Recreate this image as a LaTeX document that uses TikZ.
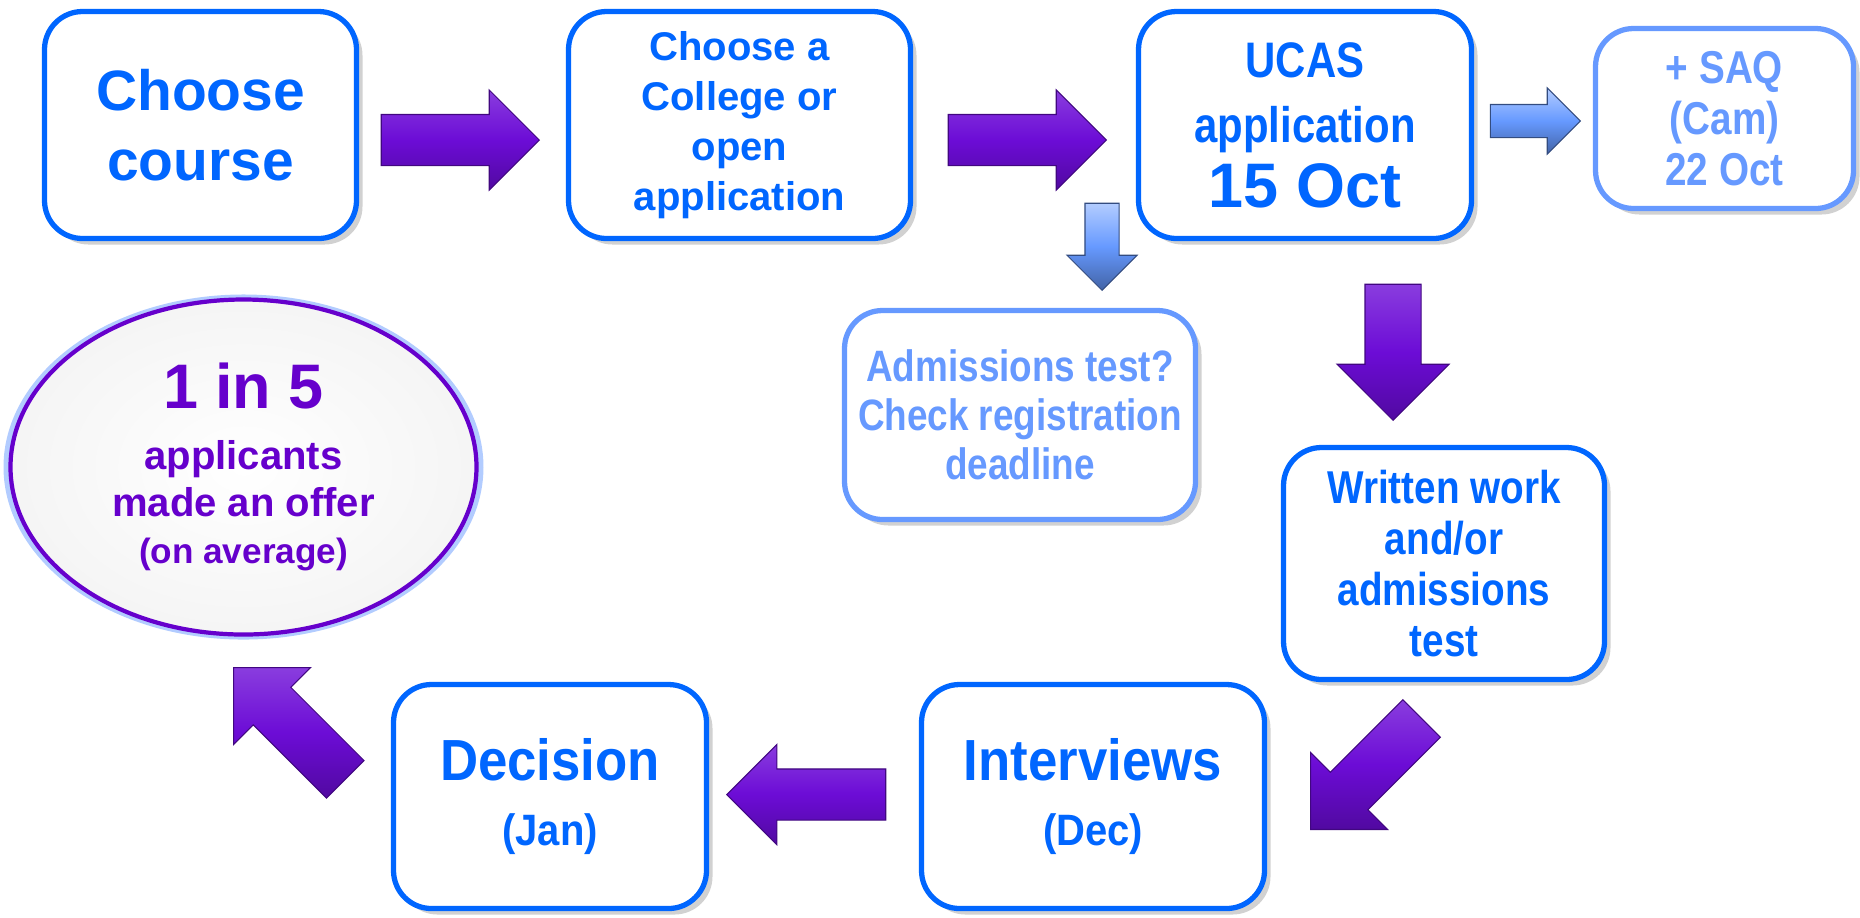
\documentclass[tikz,border=0pt]{standalone}
\usepackage{fontspec}
\setmainfont{Liberation Sans}
\newfontfamily\condfont[FakeStretch=0.84]{Liberation Sans}
\newfontfamily\semicondfont[FakeStretch=0.91]{Liberation Sans}
\usetikzlibrary{positioning,calc,shapes.arrows,shapes.geometric,shadows}

\definecolor{boxblue}{RGB}{0,102,255}
\definecolor{paleblue}{RGB}{102,153,255}
\definecolor{offerpurple}{RGB}{102,0,204}
\definecolor{arrowpurple}{RGB}{108,12,214}

\tikzset{
  stepbox/.style={draw=boxblue, line width=1.5pt, rounded corners=0.38cm, fill=white,
    text=boxblue, align=center, inner sep=0pt,
    drop shadow={shadow xshift=0.06cm, shadow yshift=-0.06cm, opacity=0.3, fill=black!60}},
  sidebox/.style={stepbox, draw=paleblue, text=paleblue},
  % minimum height = length, minimum width = head, inner ysep = half the shaft
  fatarrow/.style={single arrow, single arrow tip angle=90, single arrow head extend=0.245cm,
    inner xsep=0pt, inner ysep=0.25cm, minimum height=1.58cm, minimum width=0.99cm,
    anchor=tip, draw=arrowpurple!60!black, line width=0.3pt,
    top color=arrowpurple!80!white, bottom color=arrowpurple!75!black, middle color=arrowpurple},
  thinarrow/.style={fatarrow, draw=paleblue!50!black,
    top color=paleblue!50!white, bottom color=paleblue!65!black, middle color=paleblue},
}

\begin{document}
\begin{tikzpicture}
\useasboundingbox (0,0) rectangle (18.6,-9.17);

% top row
\node[stepbox, minimum width=3.12cm, minimum height=2.27cm,
  font=\bfseries\fontsize{16.2}{19.9}\selectfont] (course) at (2.005,-1.25) {Choose\\course};
\node[stepbox, minimum width=3.42cm, minimum height=2.27cm,
  font=\bfseries\fontsize{11.4}{14.2}\selectfont] (college) at (7.395,-1.25) {Choose a\\College or\\open\\application};
\node[stepbox, minimum width=3.33cm, minimum height=2.27cm,
  font=\bfseries\fontsize{14.2}{18.5}\selectfont] (ucas) at (13.05,-1.25)
  {{\condfont UCAS}\\{\condfont application}\\{\fontsize{17.9}{18.5}\selectfont 15 Oct}};
\node[sidebox, minimum width=2.58cm, minimum height=1.80cm,
  font=\condfont\bfseries\fontsize{13.1}{14.5}\selectfont] (saq) at (17.245,-1.185) {+ SAQ\\(Cam)\\22 Oct};

% middle
\node[sidebox, minimum width=3.51cm, minimum height=2.09cm,
  font=\condfont\bfseries\fontsize{12.5}{13.9}\selectfont] (admtest) at (10.20,-4.15)
  {Admissions test?\\Check registration\\deadline};
\node[stepbox, minimum width=3.21cm, minimum height=2.32cm,
  font=\condfont\bfseries\fontsize{13.1}{14.5}\selectfont] (written) at (14.44,-5.635)
  {Written work\\and/or\\admissions\\test};

% bottom row
\node[stepbox, minimum width=3.43cm, minimum height=2.24cm,
  font=\semicondfont\bfseries\fontsize{16.5}{17}\selectfont] (interviews) at (10.93,-7.965)
  {Interviews\\[0.05cm]{\fontsize{12.5}{17}\selectfont (Dec)}};
\node[stepbox, minimum width=3.13cm, minimum height=2.24cm,
  font=\semicondfont\bfseries\fontsize{16.5}{17}\selectfont] (decision) at (5.50,-7.965)
  {Decision\\[0.05cm]{\fontsize{12.5}{17}\selectfont (Jan)}};

% the offer
\node[ellipse, draw=offerpurple, line width=1.2pt, minimum width=4.66cm, minimum height=3.35cm,
  inner sep=0pt, inner color=white, outer color=black!4, text=offerpurple, align=center,
  drop shadow={shadow xshift=0pt, shadow yshift=0pt, shadow scale=1.03, fill=paleblue, opacity=0.5},
  font=\bfseries\fontsize{11.4}{13.4}\selectfont] (offer) at (2.435,-4.67)
  {{\fontsize{17.9}{20}\selectfont 1 in 5}\\[0.14cm]applicants\\made an offer\\{\fontsize{10}{13}\selectfont (on average)}};

% arrows, placed by their tips
\node[fatarrow] (a1) at (5.40,-1.40) {};
\node[fatarrow] (a2) at (11.07,-1.40) {};
\node[thinarrow, minimum height=0.90cm, minimum width=0.65cm, inner ysep=0.16cm,
  single arrow head extend=0.165cm] (a3) at (15.81,-1.21) {};
\node[thinarrow, minimum height=0.87cm, minimum width=0.69cm, inner ysep=0.165cm,
  single arrow head extend=0.18cm, rotate=-90] (a4) at (11.02,-2.91) {};
\node[fatarrow, minimum height=1.36cm, minimum width=1.11cm, inner ysep=0.275cm,
  single arrow head extend=0.28cm, rotate=-90] (a5) at (13.93,-4.21) {};
\node[fatarrow, minimum height=1.57cm, minimum width=1.08cm, inner ysep=0.26cm,
  single arrow head extend=0.28cm, rotate=225] (a6) at (13.10,-8.30) {};
\node[fatarrow, minimum height=1.59cm, rotate=180] (a7) at (7.26,-7.945) {};
\node[fatarrow, minimum width=1.08cm, inner ysep=0.26cm,
  single arrow head extend=0.28cm, rotate=135] (a8) at (2.33,-6.67) {};
\end{tikzpicture}
\end{document}
